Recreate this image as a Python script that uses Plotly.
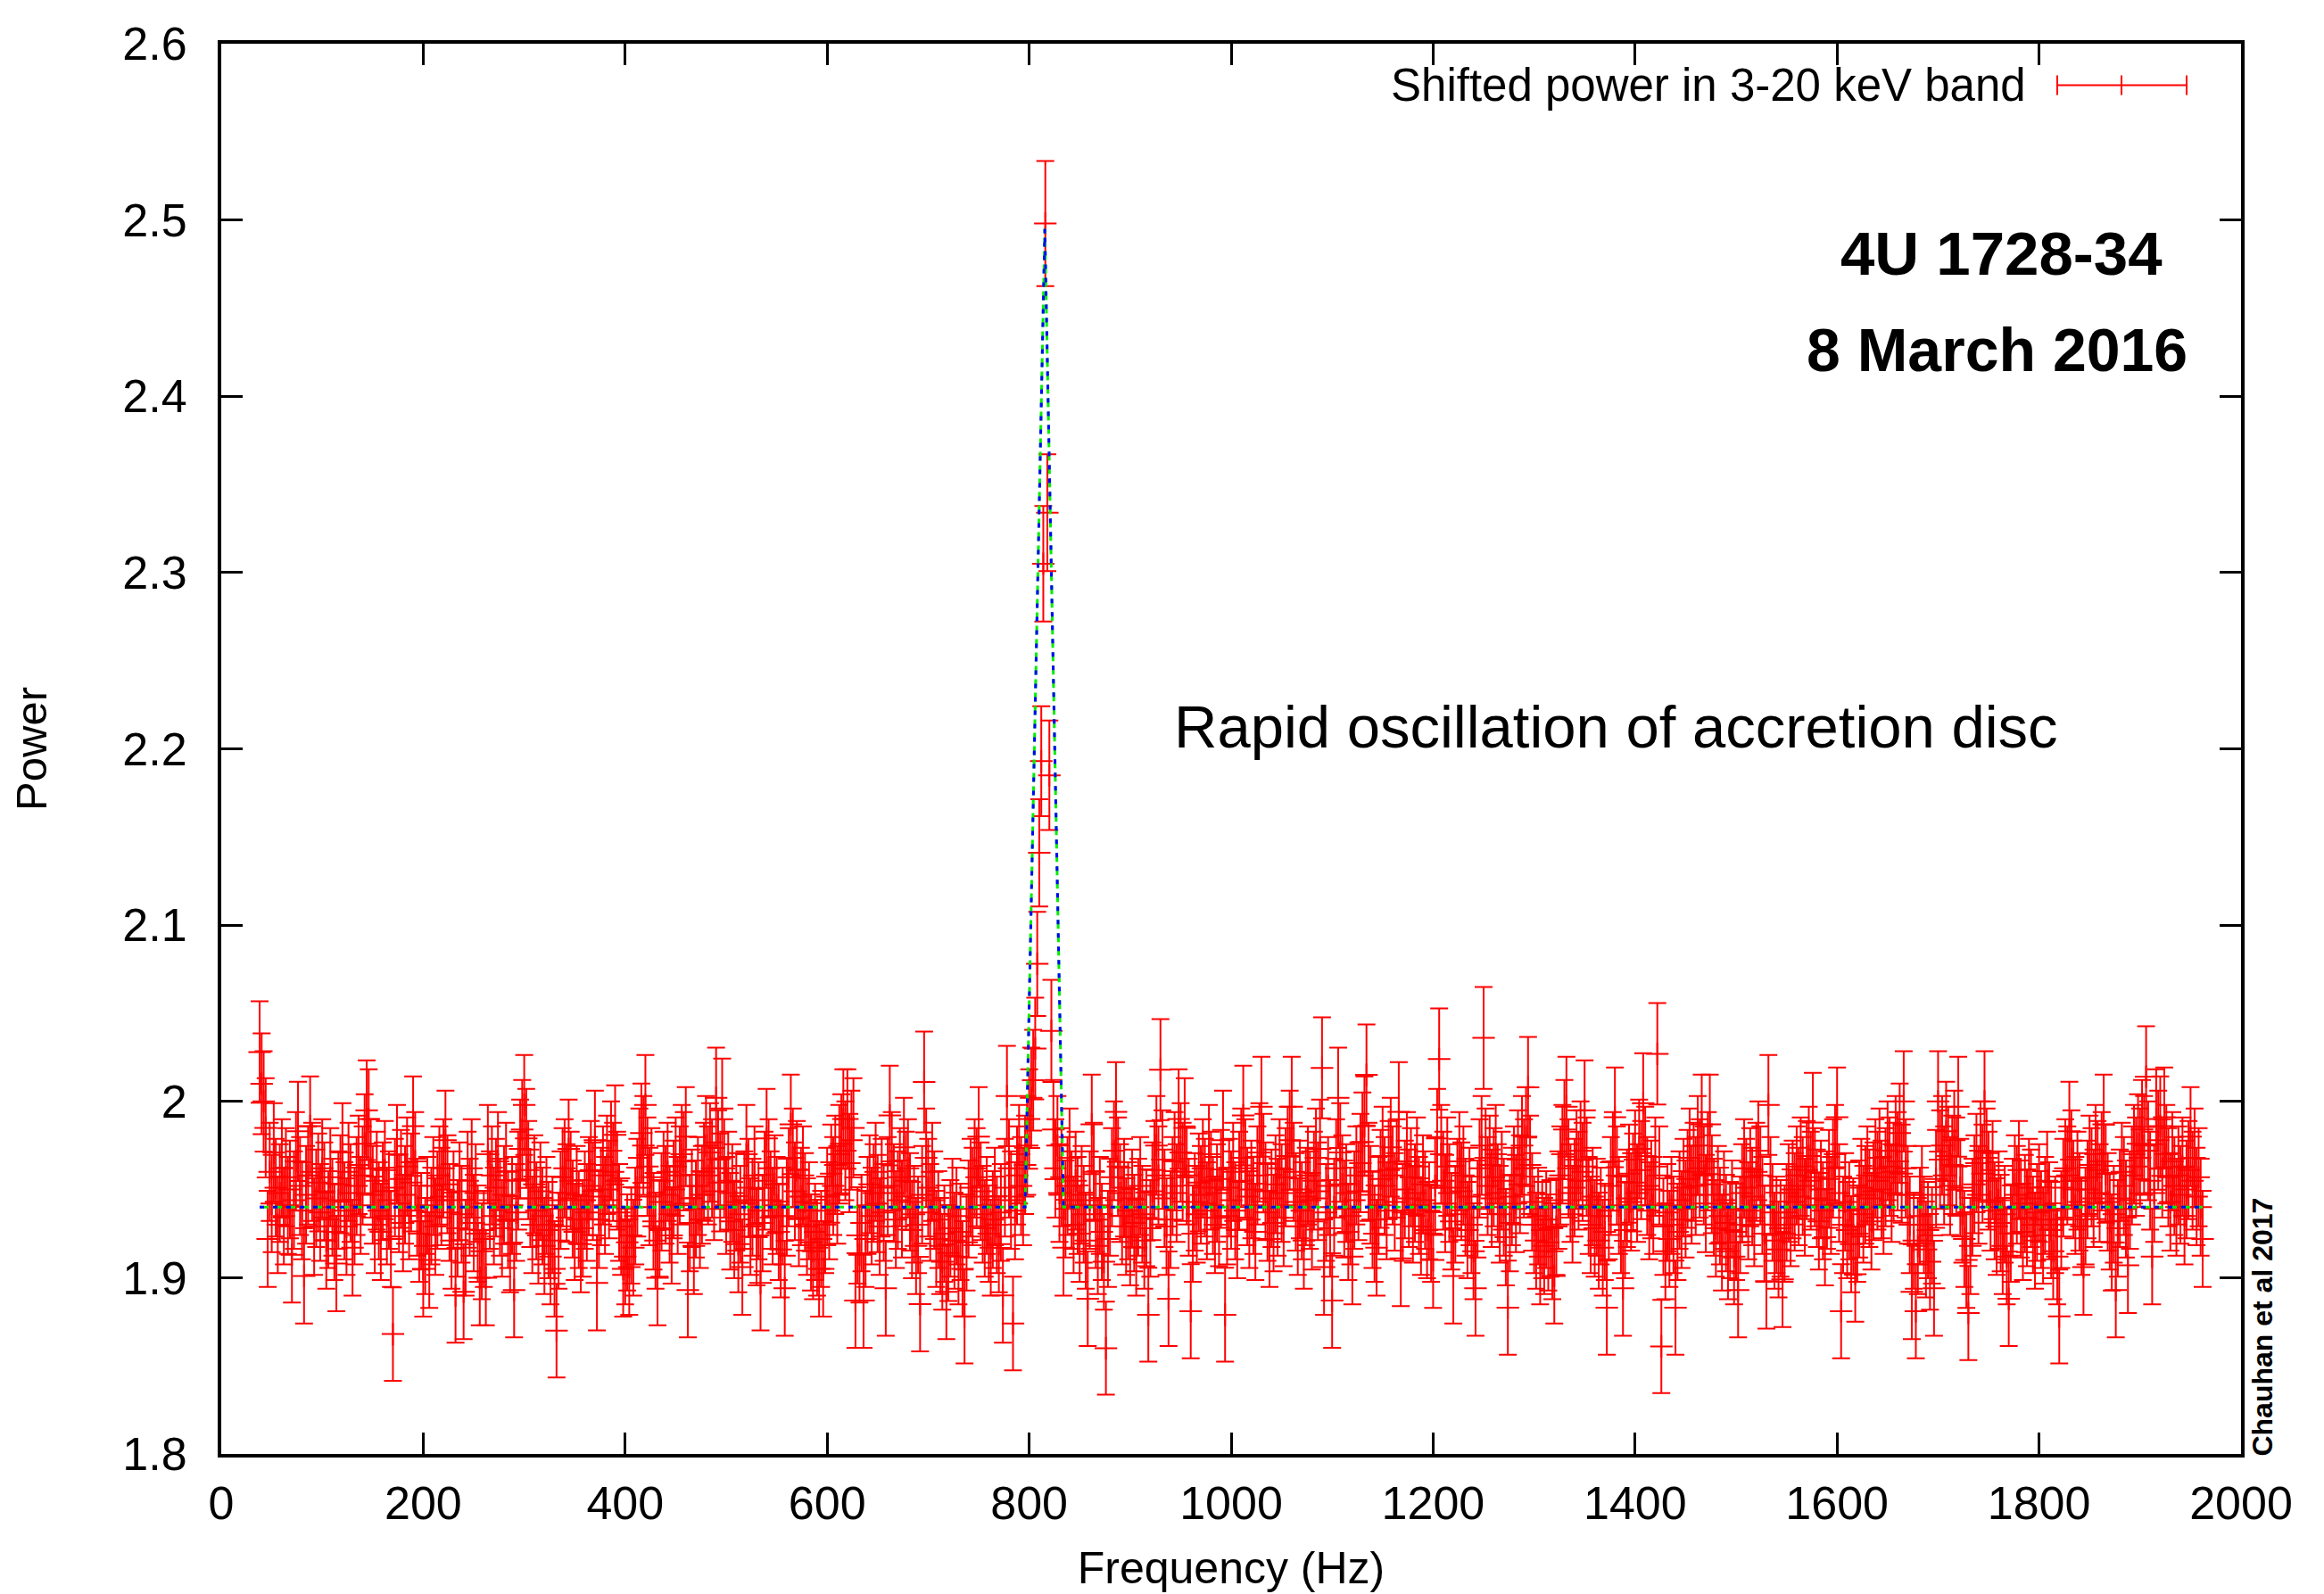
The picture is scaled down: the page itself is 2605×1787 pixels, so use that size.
import plotly.graph_objects as go
import numpy as np

# ---------------- data ----------------
# frequency bins: 2 Hz resolution from 38 Hz to 1962 Hz
FREQ_START, FREQ_STOP, FREQ_STEP = 38, 1962, 2

POWER = [
    # 38-56 Hz
    2.028, 2.010, 2.000, 1.985, 1.922, 1.960, 1.942, 1.971, 1.951, 1.930,
    # 58-76
    1.948, 1.962, 1.935, 1.957, 1.941, 1.950, 1.913, 1.944, 1.966, 1.983,
    # 78-96
    1.952, 1.938, 1.901, 1.947, 1.958, 1.986, 1.960, 1.929, 1.945, 1.954,
    # 98-116
    1.937, 1.962, 1.949, 1.921, 1.933, 1.957, 1.940, 1.926, 1.908, 1.944,
    # 118-136
    1.953, 1.971, 1.938, 1.929, 1.960, 1.948, 1.917, 1.935, 1.952, 1.964,
    # 138-156
    1.941, 1.958, 1.976, 1.995, 1.990, 1.962, 1.947, 1.930, 1.955, 1.938,
    # 158-176
    1.926, 1.949, 1.961, 1.935, 1.944, 1.922, 1.868, 1.951, 1.970, 1.942,
    # 178-196
    1.956, 1.931, 1.947, 1.963, 1.938, 1.954, 1.986, 1.966, 1.940, 1.925,
    # 198-216
    1.932, 1.905, 1.918, 1.941, 1.910, 1.935, 1.952, 1.929, 1.944, 1.958,
    # 218-236
    1.946, 1.962, 1.978, 1.953, 1.937, 1.921, 1.944, 1.890, 1.928, 1.949,
    # 238-256
    1.936, 1.892, 1.917, 1.955, 1.940, 1.962, 1.931, 1.948, 1.925, 1.900,
    # 258-276
    1.915, 1.922, 1.900, 1.970, 1.944, 1.958, 1.935, 1.951, 1.966, 1.940,
    # 278-296
    1.928, 1.947, 1.960, 1.933, 1.919, 1.941, 1.893, 1.937, 1.955, 1.973,
    # 298-316
    1.984, 1.998, 1.979, 1.961, 1.945, 1.930, 1.953, 1.938, 1.924, 1.949,
    # 318-336
    1.935, 1.918, 1.941, 1.927, 1.912, 1.930, 1.905, 1.870, 1.921, 1.944,
    # 338-356
    1.957, 1.962, 1.948, 1.973, 1.955, 1.939, 1.926, 1.947, 1.933, 1.919,
    # 358-376
    1.928, 1.944, 1.937, 1.952, 1.961, 1.949, 1.978, 1.897, 1.933, 1.946,
    # 378-396
    1.958, 1.941, 1.964, 1.950, 1.972, 1.960, 1.981, 1.955, 1.937, 1.929,
    # 398-416
    1.905, 1.912, 1.920, 1.906, 1.924, 1.917, 1.935, 1.951, 1.968, 1.982,
    # 418-436
    1.975, 1.998, 1.963, 1.946, 1.957, 1.932, 1.921, 1.900, 1.928, 1.943,
    # 438-456
    1.955, 1.947, 1.960, 1.936, 1.924, 1.950, 1.963, 1.941, 1.958, 1.970,
    # 458-476
    1.966, 1.980, 1.893, 1.931, 1.945, 1.918, 1.939, 1.952, 1.933, 1.947,
    # 478-496
    1.960, 1.975, 1.958, 1.971, 1.962, 1.949, 2.002, 1.967, 1.954, 1.996,
    # 498-516
    1.962, 1.941, 1.955, 1.932, 1.948, 1.927, 1.943, 1.919, 1.936, 1.906,
    # 518-536
    1.944, 1.970, 1.951, 1.929, 1.940, 1.958, 1.923, 1.938, 1.897, 1.931,
    # 538-556
    1.955, 1.979, 1.962, 1.944, 1.935, 1.953, 1.941, 1.926, 1.916, 1.935,
    # 558-576
    1.894, 1.940, 1.957, 1.987, 1.968, 1.949, 1.961, 1.934, 1.946, 1.958,
    # 578-596
    1.943, 1.929, 1.938, 1.920, 1.915, 1.926, 1.917, 1.905, 1.922, 1.905,
    # 598-616
    1.930, 1.946, 1.938, 1.959, 1.952, 1.964, 1.947, 1.970, 1.976, 1.990,
    # 618-636
    1.972, 1.990, 1.965, 1.978, 1.985, 1.887, 1.924, 1.913, 1.931, 1.887,
    # 638-656
    1.922, 1.941, 1.953, 1.935, 1.948, 1.960, 1.942, 1.929, 1.951, 1.937,
    # 658-676
    1.894, 1.952, 1.992, 1.966, 1.948, 1.933, 1.944, 1.957, 1.939, 1.974,
    # 678-696
    1.955, 1.962, 1.943, 1.927, 1.936, 1.918, 1.930, 1.885, 1.947, 2.011,
    # 698-716
    1.968, 1.951, 1.937, 1.960, 1.944, 1.922, 1.933, 1.918, 1.909, 1.925,
    # 718-736
    1.892, 1.914, 1.928, 1.940, 1.921, 1.935, 1.912, 1.926, 1.905, 1.878,
    # 738-756
    1.920, 1.939, 1.951, 1.946, 1.962, 1.957, 1.980, 1.949, 1.936, 1.928,
    # 758-776
    1.941, 1.925, 1.917, 1.933, 1.946, 1.930, 1.919, 1.937, 1.890, 1.951,
    # 778-796
    2.003, 1.962, 1.944, 1.874, 1.938, 1.958, 1.970, 1.952, 1.946, 1.964,
    # 798-816
    1.975, 1.990, 2.002, 2.012, 2.030, 2.078, 2.141, 2.193, 2.305, 2.498,
    # 818-836
    2.334, 2.185, 2.040, 1.984, 1.962, 1.975, 1.948, 1.957, 1.917, 1.939,
    # 838-856
    1.952, 1.968, 1.944, 1.930, 1.955, 1.941, 1.925, 1.947, 1.936, 1.921,
    # 858-876
    1.888, 1.944, 1.987, 1.960, 1.933, 1.918, 1.941, 1.926, 1.909, 1.860,
    # 878-896
    1.922, 1.940, 1.957, 1.972, 1.994, 1.963, 1.948, 1.935, 1.951, 1.929,
    # 898-916
    1.938, 1.923, 1.945, 1.931, 1.917, 1.940, 1.952, 1.936, 1.921, 1.934,
    # 918-936
    1.879, 1.928, 1.949, 1.961, 1.975, 1.958, 2.018, 1.967, 1.945, 1.929,
    # 938-956
    1.888, 1.933, 1.952, 1.966, 1.948, 1.990, 1.971, 1.960, 1.985, 1.958,
    # 958-976
    1.940, 1.881, 1.925, 1.943, 1.936, 1.954, 1.947, 1.962, 1.951, 1.938,
    # 978-996
    1.970, 1.955, 1.941, 1.930, 1.948, 1.934, 1.956, 1.978, 1.879, 1.935,
    # 998-1016
    1.951, 1.944, 1.960, 1.938, 1.927, 1.955, 1.968, 1.992, 1.962, 1.946,
    # 1018-1036
    1.933, 1.950, 1.941, 1.926, 1.958, 1.971, 1.997, 1.965, 1.949, 1.937,
    # 1038-1056
    1.922, 1.945, 1.931, 1.953, 1.940, 1.962, 1.948, 1.934, 1.957, 1.969,
    # 1058-1076
    1.978, 1.997, 1.960, 1.943, 1.929, 1.950, 1.938, 1.921, 1.946, 1.958,
    # 1078-1096
    1.944, 1.932, 1.955, 1.968, 1.949, 1.973, 2.019, 1.906, 1.937, 1.952,
    # 1098-1116
    1.928, 1.887, 1.940, 1.962, 2.002, 1.971, 1.953, 1.939, 1.948, 1.926,
    # 1118-1136
    1.935, 1.912, 1.944, 1.958, 1.949, 1.965, 1.977, 1.986, 2.015, 1.960,
    # 1138-1156
    1.947, 1.933, 1.925, 1.917, 1.941, 1.956, 1.969, 1.952, 1.938, 1.961,
    # 1158-1176
    1.974, 1.958, 1.943, 1.962, 1.994, 1.911, 1.937, 1.950, 1.966, 1.945,
    # 1178-1196
    1.957, 1.936, 1.948, 1.963, 1.941, 1.929, 1.953, 1.944, 1.927, 1.938,
    # 1198-1216
    1.925, 1.910, 1.952, 1.979, 2.024, 1.970, 1.955, 1.942, 1.963, 1.948,
    # 1218-1236
    1.932, 1.901, 1.936, 1.951, 1.966, 1.949, 1.958, 1.940, 1.927, 1.946,
    # 1238-1256
    1.930, 1.915, 1.894, 1.939, 1.962, 1.975, 2.036, 1.968, 1.952, 1.964,
    # 1258-1276
    1.945, 1.957, 1.970, 1.948, 1.936, 1.955, 1.940, 1.923, 1.883, 1.931,
    # 1278-1296
    1.946, 1.958, 1.942, 1.967, 1.953, 1.975, 1.962, 1.980, 2.008, 1.964,
    # 1298-1316
    1.943, 1.930, 1.921, 1.935, 1.912, 1.927, 1.918, 1.933, 1.920, 1.928,
    # 1318-1336
    1.915, 1.901, 1.929, 1.944, 1.958, 1.970, 1.984, 1.997, 1.962, 1.948,
    # 1338-1356
    1.936, 1.951, 1.967, 1.955, 1.972, 1.960, 1.995, 1.963, 1.941, 1.930,
    # 1358-1376
    1.946, 1.928, 1.940, 1.921, 1.935, 1.917, 1.926, 1.883, 1.938, 1.952,
    # 1378-1396
    1.966, 1.991, 1.958, 1.941, 1.930, 1.894, 1.927, 1.945, 1.959, 1.943,
    # 1398-1416
    1.954, 1.967, 1.948, 1.973, 1.961, 1.999, 1.969, 1.952, 1.938, 1.950,
    # 1418-1436
    1.941, 1.963, 2.027, 1.958, 1.861, 1.929, 1.915, 1.937, 1.922, 1.941,
    # 1438-1456
    1.930, 1.883, 1.926, 1.944, 1.933, 1.951, 1.939, 1.956, 1.968, 1.947,
    # 1458-1476
    1.960, 1.952, 1.975, 1.962, 1.987, 1.958, 1.942, 1.966, 1.987, 1.953,
    # 1478-1496
    1.940, 1.928, 1.947, 1.935, 1.920, 1.944, 1.931, 1.915, 1.927, 1.939,
    # 1498-1516
    1.912, 1.926, 1.893, 1.930, 1.948, 1.962, 1.951, 1.938, 1.957, 1.946,
    # 1518-1536
    1.934, 1.960, 1.972, 1.958, 1.941, 1.925, 1.898, 1.998, 1.952, 1.937,
    # 1538-1556
    1.921, 1.930, 1.916, 1.928, 1.899, 1.925, 1.937, 1.948, 1.934, 1.950,
    # 1558-1576
    1.943, 1.958, 1.946, 1.963, 1.952, 1.940, 1.961, 1.969, 1.955, 1.988,
    # 1578-1596
    1.957, 1.945, 1.932, 1.950, 1.938, 1.923, 1.944, 1.956, 1.941, 1.962,
    # 1598-1616
    1.970, 1.991, 1.948, 1.881, 1.930, 1.943, 1.927, 1.938, 1.919, 1.929,
    # 1618-1636
    1.902, 1.925, 1.939, 1.951, 1.936, 1.947, 1.958, 1.945, 1.932, 1.949,
    # 1638-1656
    1.962, 1.955, 1.968, 1.950, 1.941, 1.957, 1.972, 1.963, 1.948, 1.960,
    # 1658-1676
    1.975, 1.966, 1.982, 1.959, 2.000, 1.962, 1.947, 1.930, 1.892, 1.921,
    # 1678-1696
    1.881, 1.918, 1.935, 1.947, 1.930, 1.916, 1.927, 1.909, 1.924, 1.894,
    # 1698-1716
    1.956, 2.000, 1.967, 1.975, 1.958, 1.983, 1.969, 1.952, 1.964, 1.978,
    # 1718-1736
    1.963, 1.997, 1.951, 1.936, 1.922, 1.910, 1.880, 1.918, 1.940, 1.953,
    # 1738-1756
    1.965, 1.947, 1.972, 1.959, 2.000, 1.968, 1.955, 1.943, 1.961, 1.938,
    # 1758-1776
    1.929, 1.944, 1.931, 1.918, 1.936, 1.912, 1.888, 1.925, 1.940, 1.953,
    # 1778-1796
    1.947, 1.961, 1.939, 1.926, 1.942, 1.934, 1.951, 1.945, 1.930, 1.921,
    # 1798-1816
    1.937, 1.948, 1.933, 1.924, 1.941, 1.955, 1.938, 1.927, 1.915, 1.930,
    # 1818-1836
    1.912, 1.878, 1.933, 1.951, 1.962, 1.958, 1.983, 1.967, 1.950, 1.941,
    # 1838-1856
    1.955, 1.943, 1.929, 1.906, 1.935, 1.950, 1.964, 1.957, 1.945, 1.970,
    # 1858-1876
    1.961, 1.948, 1.966, 1.987, 1.959, 1.943, 1.932, 1.920, 1.936, 1.893,
    # 1878-1896
    1.928, 1.945, 1.960, 1.952, 1.939, 1.907, 1.944, 1.958, 1.970, 1.963,
    # 1898-1916
    1.976, 1.968, 1.984, 1.975, 2.014, 1.972, 1.955, 1.912, 1.948, 1.990,
    # 1918-1936
    1.978, 1.986, 1.962, 1.991, 1.970, 1.957, 1.943, 1.966, 1.952, 1.940,
    # 1938-1956
    1.958, 1.947, 1.963, 1.935, 1.950, 1.961, 1.980, 1.955, 1.968, 1.946,
    # 1958-1962
    1.957, 1.940, 1.922,
]

# relative (Leahy-type) error on every power estimate, in percent
POWER_ERR_PCT = 1.42

# fitted model (constant + QPO), as drawn on the reference
MODEL_FREQ = [38, 796, 815.5, 834, 1962]
MODEL_POWER = [1.940, 1.940, 2.495, 1.940, 1.940]

X_TICKS = [0, 200, 400, 600, 800, 1000, 1200, 1400, 1600, 1800, 2000]
Y_TICKS = [1.8, 1.9, 2.0, 2.1, 2.2, 2.3, 2.4, 2.5, 2.6]

FREQ = np.arange(FREQ_START, FREQ_STOP + 1, FREQ_STEP)
assert len(FREQ) == len(POWER)

# ---------------- figure ----------------
W, H = 2605, 1787
L, R, T, B = 240, 101, 24, 165
# the reference layout was measured with the plot frame at these pixels
REF_L, REF_T, REF_R, REF_B = 248, 33, 2512, 1631

FONT = "Liberation Sans, Arial, Helvetica, sans-serif"
BOLD = "Liberation Sans, Arial, Helvetica, sans-serif"
RED = "#ff0000"

fig = go.Figure()

fig.add_trace(go.Scatter(
    x=FREQ, y=POWER, mode="markers",
    marker=dict(symbol="cross-thin", size=18, color=RED,
                line=dict(color=RED, width=2)),
    error_y=dict(type="percent", value=POWER_ERR_PCT, color=RED,
                 thickness=2, width=10),
    name="Shifted power in 3-20 keV band", showlegend=False,
))

fig.add_trace(go.Scatter(
    x=MODEL_FREQ, y=MODEL_POWER, mode="lines",
    line=dict(color="#00ee00", width=3, dash="10px,5px"),
    showlegend=False, hoverinfo="skip",
))
fig.add_trace(go.Scatter(
    x=MODEL_FREQ, y=MODEL_POWER, mode="lines",
    line=dict(color="#0000ff", width=3, dash="5px,10px"),
    showlegend=False, hoverinfo="skip",
))

def px_x(px):
    return (px - REF_L) / (REF_R - REF_L)

def px_y(py):
    return (REF_B - py) / (REF_B - REF_T)

annotations = [
    dict(text="Shifted power in 3-20 keV band", x=px_x(2273), y=px_y(80),
         xanchor="right", yanchor="middle",
         font=dict(family=FONT, size=51, color="black")),
    dict(text="<b>4U 1728-34</b>", x=px_x(2243), y=px_y(271),
         xanchor="center", yanchor="middle",
         font=dict(family=BOLD, size=69, color="black")),
    dict(text="<b>8 March 2016</b>", x=px_x(2238), y=px_y(380),
         xanchor="center", yanchor="middle",
         font=dict(family=BOLD, size=68, color="black")),
    dict(text="Rapid oscillation of accretion disc", x=px_x(1811), y=px_y(807),
         xanchor="center", yanchor="middle",
         font=dict(family=FONT, size=67, color="black")),
    dict(text="<b>Chauhan et al 2017</b>", x=px_x(2536), y=px_y(1487),
         xanchor="center", yanchor="middle", textangle=-90,
         font=dict(family=BOLD, size=32, color="black")),
]
for a in annotations:
    a.update(xref="paper", yref="paper", showarrow=False)

# legend sample drawn with shapes (errorbar glyph)
lx0, lx1, lxm, ly = px_x(2306), px_x(2451), px_x(2378), px_y(80)
dh = 11 / (REF_B - REF_T)
shapes = [
    dict(type="line", x0=lx0, x1=lx1, y0=ly, y1=ly),
    dict(type="line", x0=lx0, x1=lx0, y0=ly - dh, y1=ly + dh),
    dict(type="line", x0=lx1, x1=lx1, y0=ly - dh, y1=ly + dh),
    dict(type="line", x0=lxm, x1=lxm, y0=ly - dh, y1=ly + dh),
]
for s in shapes:
    s.update(xref="paper", yref="paper", line=dict(color=RED, width=2))

axis_common = dict(
    showline=True, linecolor="black", linewidth=4, mirror="ticks",
    ticks="inside", ticklen=24, tickwidth=2.5, tickcolor="black",
    showgrid=False, zeroline=False, ticklabeloverflow="allow",
    tickfont=dict(family=FONT, size=52, color="black"),
)

fig.update_layout(
    width=W, height=H, autosize=False,
    margin=dict(l=L, r=R, t=T, b=B, pad=0),
    paper_bgcolor="white", plot_bgcolor="white",
    xaxis=dict(range=[0, 2000], tickvals=X_TICKS, ticklabelstandoff=7,
               title=dict(text="Frequency (Hz)", standoff=28,
                          font=dict(family=FONT, size=50, color="black")),
               **axis_common),
    yaxis=dict(range=[1.8, 2.6], tickvals=Y_TICKS, ticklabelstandoff=24,
               title=dict(text="Power", standoff=75,
                          font=dict(family=FONT, size=49, color="black")),
               **axis_common),
    annotations=annotations, shapes=shapes,
    showlegend=False,
)

fig.write_html("out.html")
